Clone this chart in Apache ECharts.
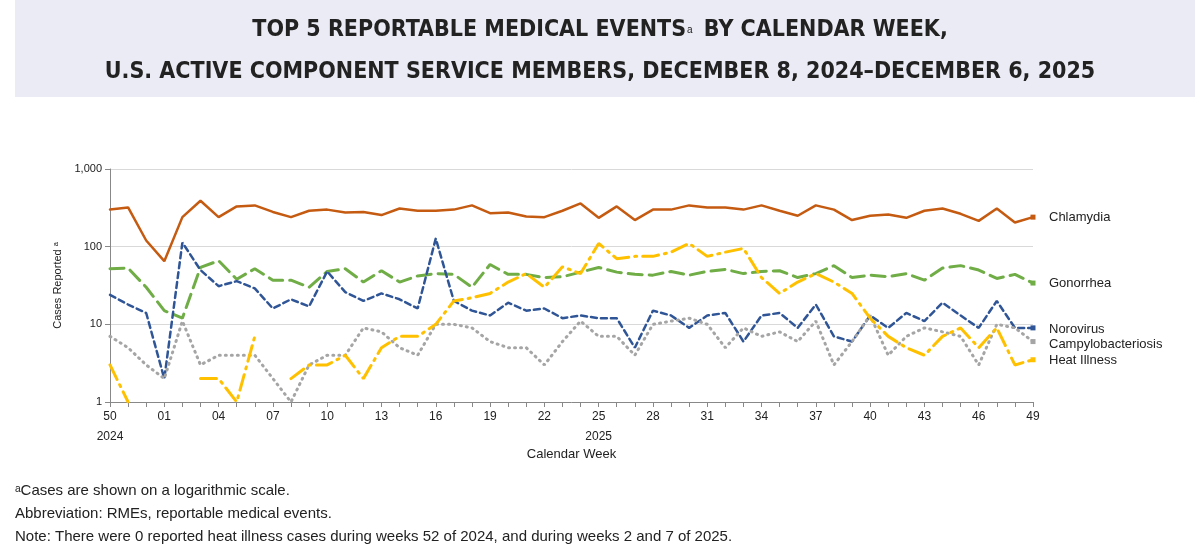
<html>
<head>
<meta charset="UTF-8">
<script src="https://cdn.jsdelivr.net/npm/echarts@6/dist/echarts.min.js"></script>
<style>
body { margin: 0; padding: 0; }
#echart { width: 1200px; height: 558px; }
</style>
</head>
<body>
<div id="echart"></div>
<script>
const weeks = ['50','51','52'].concat(Array.from({length: 49}, (_, i) => String(i + 1).padStart(2, '0')));
const chlamydia = [300,320,120,65,240,390,240,330,340,280, 240,290,300,275,280,255,310,290,290,300, 340,270,275,245,240,290,360,235,330,220, 300,300,340,320,320,300,340,290,250,340, 300,220,250,260,235,290,310,265,215,310, 205,240];
const gonorrhea = [52,53,30,15,12,54,66,38,52,37, 37,30,48,52,35,49,35,42,45,44, 30,59,44,44,40,41,47,54,47,44, 43,48,43,48,51,45,48,49,40,45, 57,40,43,41,45,37,53,57,50,39, 44,34];
const norovirus = [24,18,14,2,113,50,31,36,29,16, 21,17,48,26,20,25,21,16,127,20, 15,13,19,15,16,12,13,12,12,5, 15,13,9,13,14,6,13,14,9,18, 7,6,13,9,14,11,19,13,9,20, 9,9];
const campylo = [7,5,3,2,11,3,4,4,4,2, 1,3,4,4,9,8,5,4,10,10, 9,6,5,5,3,6,11,7,7,4, 10,11,12,10,5,9,7,8,6,11, 3,6,13,4,7,9,8,7,3,10, 9,6];
const heat = [3,1,null,1,null,2,2,1,7,null, 2,3,3,4,2,5,7,7,10,20, 22,25,35,45,30,55,45,110,70,75, 75,85,110,75,85,95,40,25,35,45, 35,25,12,7,5,4,7,9,5,9, 3,3.5];

const ec = echarts.init(document.getElementById('echart'));
function line(name, data, color, type, width, offY) {
    return {
        name: name, type: 'line', data: data, symbol: 'none', connectNulls: false,
        lineStyle: { color: color, width: width, type: type, cap: 'round' },
        endLabel: { show: true, formatter: name, color: '#222', fontSize: 13, fontFamily: 'Arial', offset: [8, offY] },
        markPoint: {
            symbol: 'rect', symbolSize: 5, label: { show: false },
            itemStyle: { color: color },
            data: [{ coord: [data.length - 1, data[data.length - 1]] }]
        }
    };
}
const titleFont = 'Liberation Sans Narrow, DejaVu Sans Condensed';
ec.setOption({
    animation: false,
    graphic: [
        { type: 'rect', shape: { x: 15, y: 0, width: 1180, height: 97 }, style: { fill: '#ebebf5' } },
        { type: 'text', left: 'center', top: 19, style: { text: 'TOP 5 REPORTABLE MEDICAL EVENTS{s|a} BY CALENDAR WEEK,', fontFamily: titleFont, fontWeight: 'bold', fontSize: 23, fill: '#222', letterSpacing: 2.8, rich: { s: { fontSize: 10, verticalAlign: 'middle', fill: '#222', padding: [0, 4, 0, 1] } } } },
        { type: 'text', left: 'center', top: 61, style: { text: 'U.S. ACTIVE COMPONENT SERVICE MEMBERS, DECEMBER 8, 2024\u2013DECEMBER 6, 2025', fontFamily: titleFont, fontWeight: 'bold', fontSize: 23, fill: '#222', letterSpacing: 2.6 } },
        { type: 'text', left: 15, top: 483, style: { text: 'ᵃCases are shown on a logarithmic scale.', fontFamily: 'Arial', fontSize: 15, fill: '#222' } },
        { type: 'text', left: 15, top: 506, style: { text: 'Abbreviation: RMEs, reportable medical events.', fontFamily: 'Arial', fontSize: 15, fill: '#222' } },
        { type: 'text', left: 15, top: 529, style: { text: 'Note: There were 0 reported heat illness cases during weeks 52 of 2024, and during weeks 2 and 7 of 2025.', fontFamily: 'Arial', fontSize: 15, fill: '#222' } }
    ],
    grid: { left: 110, right: 167, top: 169, bottom: 156 },
    xAxis: {
        type: 'category', data: weeks, boundaryGap: false,
        name: 'Calendar Week', nameLocation: 'middle', nameGap: 42,
        nameTextStyle: { fontFamily: 'Arial', fontSize: 13, color: '#222' },
        axisLine: { lineStyle: { color: '#888' } },
        axisTick: { interval: 0, lineStyle: { color: '#888' } },
        axisLabel: {
            interval: 2, color: '#222', fontFamily: 'Arial', fontSize: 12, lineHeight: 20, margin: 5,
            formatter: (v, i) => i === 0 ? '50\n2024' : (i === 27 ? '25\n2025' : v)
        }
    },
    yAxis: {
        type: 'log', logBase: 10, min: 1, max: 1000,
        name: 'Cases Reported ᵃ', nameLocation: 'middle', nameGap: 44,
        nameTextStyle: { fontFamily: 'Arial', fontSize: 11, color: '#222' },
        axisLine: { show: true, lineStyle: { color: '#888' } },
        axisTick: { show: true, lineStyle: { color: '#888' } },
        splitLine: { lineStyle: { color: '#d9d9d9' } },
        axisLabel: { color: '#222', fontFamily: 'Arial', fontSize: 11, formatter: v => v.toLocaleString('en-US') }
    },
    series: [
        line('Chlamydia', chlamydia, '#c55a11', 'solid', 2.5, 0),
        line('Gonorrhea', gonorrhea, '#70ad47', [14, 7], 3, 0),
        line('Norovirus', norovirus, '#2f5597', [6, 4], 2.5, 2),
        line('Campylobacteriosis', campylo, '#a5a5a5', [1, 5], 3, 3),
        line('Heat Illness', heat, '#ffc000', [16, 6, 2, 6], 3, 1)
    ]
});
</script>
</body>
</html>
